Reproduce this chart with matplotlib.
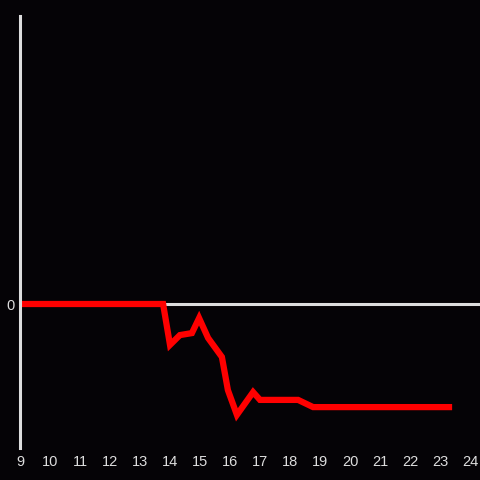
import matplotlib
matplotlib.use("Agg")
import matplotlib.pyplot as plt

# hours of the day and the value curve
hours = [9.0, 13.77, 14.0, 14.33, 14.73, 14.97, 15.27, 15.73, 15.93, 16.23,
         16.77, 17.0, 18.27, 18.77, 23.3]
values = [0.0, 0.0, -1.42, -1.08, -1.01, -0.49, -1.18, -1.84, -2.99, -3.85,
          -3.06, -3.33, -3.33, -3.58, -3.58]
xticks = list(range(9, 25))

bg = "#050306"
fg = "#dddddd"
plt.rcParams['font.family'] = ['Liberation Sans', 'DejaVu Sans']

fig = plt.figure(figsize=(4.8, 4.8), dpi=100, facecolor=bg)
ax = fig.add_axes([20 / 480, 32 / 480, 460 / 480, 432 / 480])
ax.set_facecolor(bg)

ax.axhline(0, color=fg, lw=2.2, zorder=1)
ax.plot(hours, values, color="#ff0000", lw=4.5, solid_joinstyle="miter", zorder=2)

ax.set_xlim(9, 9 + 460 / 30)
ax.set_ylim(-5, 10)
ax.set_xticks(xticks)
ax.set_xticklabels([str(h) for h in xticks])
ax.set_yticks([0])
ax.set_yticklabels(["0"])
ax.tick_params(axis='both', length=0, colors=fg, labelsize=10.5)
ax.tick_params(axis='x', pad=5)
ax.tick_params(axis='y', pad=4)

for side in ["top", "right", "bottom"]:
    ax.spines[side].set_visible(False)
ax.spines["left"].set_color(fg)
ax.spines["left"].set_linewidth(2.2)

plt.savefig("out.png", dpi=100, facecolor=bg)
